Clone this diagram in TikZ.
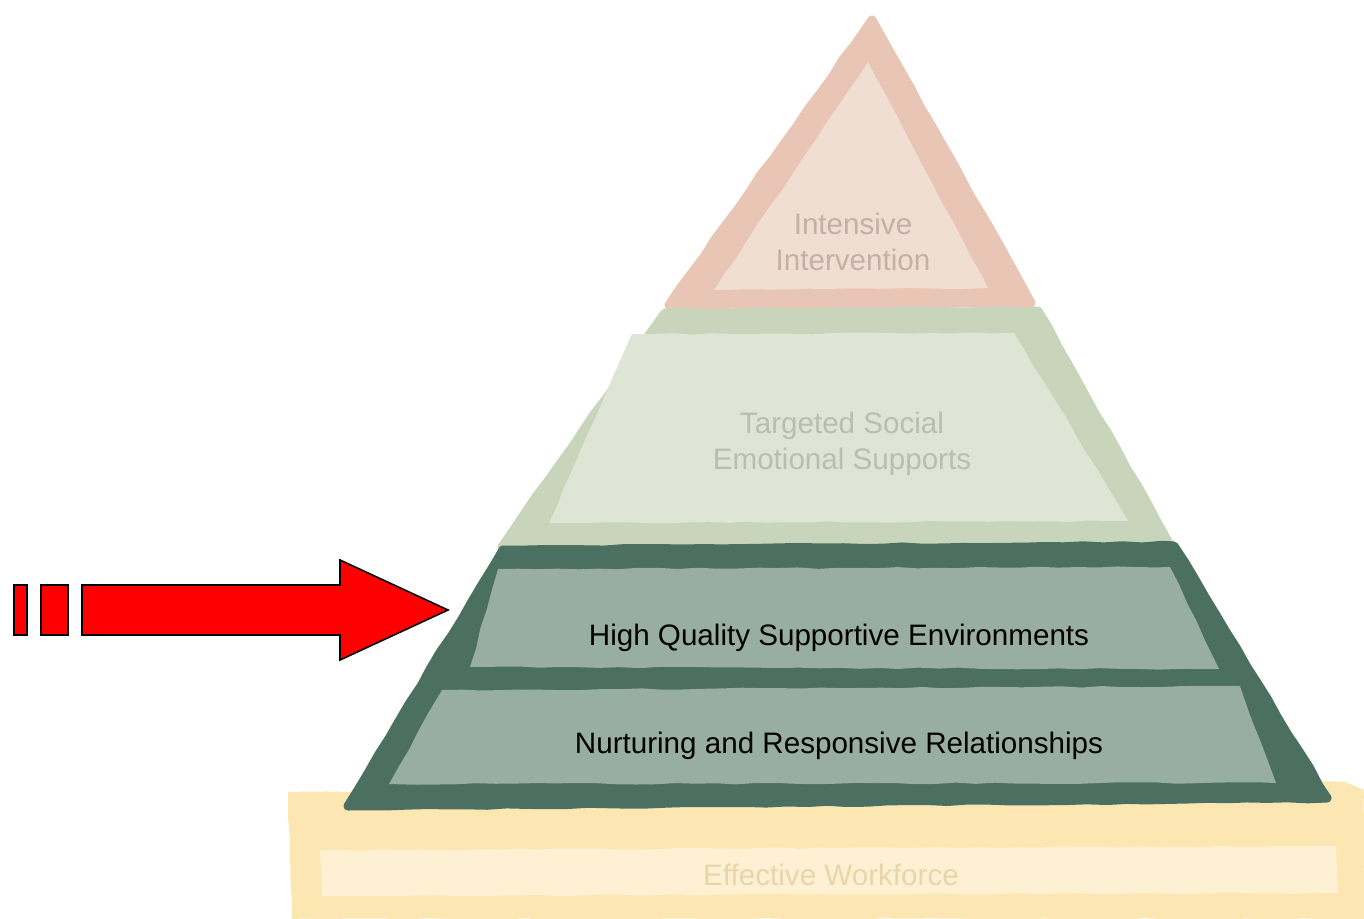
\documentclass[tikz,border=0pt]{standalone}
\usepackage{fontspec}
\setmainfont{Liberation Sans}
\usetikzlibrary{decorations.pathmorphing}
\definecolor{salOut}{HTML}{E8C5B5}
\definecolor{salIn}{HTML}{F1DED3}
\definecolor{salTxt}{HTML}{C4B0A6}
\definecolor{lgOut}{HTML}{C9D5BA}
\definecolor{lgIn}{HTML}{DFE5D4}
\definecolor{lgTxt}{HTML}{B8BFB2}
\definecolor{dgOut}{HTML}{4B6F61}
\definecolor{dgIn}{HTML}{98ADA4}
\definecolor{yOut}{HTML}{FCE6B2}
\definecolor{yIn}{HTML}{FEF0D2}
\definecolor{yTxt}{HTML}{E8D6AA}
\definecolor{arrRed}{HTML}{FF0000}
\tikzset{
  rough/.style={decorate,decoration={random steps,segment length=10pt,amplitude=0.4pt}},
  tier/.style={line join=round, line width=4.5pt, rough},
  lbl/.style={font=\fontsize{14.8}{18}\selectfont, align=center, inner sep=0pt},
  redshape/.style={fill=arrRed, draw=black, line width=0.8pt, line join=miter}
}
\begin{document}
\begin{tikzpicture}[x=0.5pt,y=-0.5pt]
\useasboundingbox (0,0) rectangle (1364,919);
% base (yellow)
\fill[yOut, rough] (288,792) -- (1345,782) -- (1364,790) -- (1364,919) -- (292,919) -- cycle;
\fill[yIn, rough] (320,850) -- (1336,846) -- (1338,893) -- (322,896) -- cycle;
\node[lbl, text=yTxt] (workforce) at (831,875) {Effective Workforce};
% top triangle
\filldraw[salOut, tier] (872,20) -- (1031,303) -- (669,305) -- cycle;
\fill[salIn, rough] (868,62) -- (988,288) -- (714,290) -- cycle;
\node[lbl, text=salTxt] (intensive) at (853,242) {Intensive\\Intervention};
% light green trapezoid
\filldraw[lgOut, tier] (665,313) -- (1038,311) -- (1170,545) -- (502,547) -- cycle;
\fill[lgIn, rough] (632,334) -- (1014,333) -- (1128,521) -- (549,523) -- cycle;
\node[lbl, text=lgTxt] (targeted) at (842,444) {Targeted Social\\Emotional Supports};
% dark green trapezoid
\filldraw[dgOut, tier] (503,550) -- (1174,546) -- (1327,798) -- (348,806) -- cycle;
\fill[dgIn, rough] (498,569) -- (1170,567) -- (1219,669) -- (470,667) -- cycle;
\fill[dgIn, rough] (442,690) -- (1240,686) -- (1276,783) -- (389,784) -- cycle;
\node[lbl, text=black] (hq) at (839,638) {High Quality Supportive Environments};
\node[lbl, text=black] (nr) at (839,746) {Nurturing and Responsive Relationships};
% red arrow
\draw[redshape] (14,585) rectangle (27,635);
\draw[redshape] (41,585) rectangle (68,635);
\draw[redshape] (82,585) -- (340,585) -- (340,560) -- (448,610) -- (340,660) -- (340,635) -- (82,635) -- cycle;
\coordinate (tip) at (448,610);
\end{tikzpicture}
\end{document}
